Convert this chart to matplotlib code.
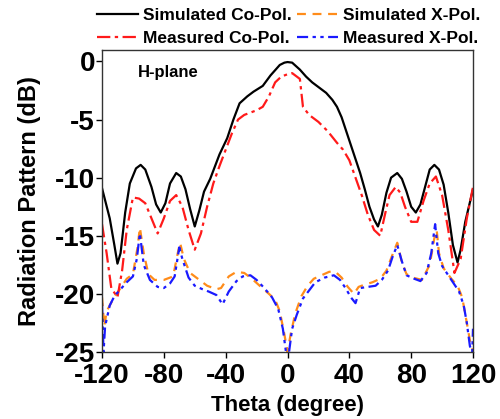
import matplotlib
matplotlib.use("Agg")
from matplotlib import pyplot as plt

plt.rcParams['font.family'] = ['Liberation Sans', 'DejaVu Sans']
plt.rcParams['font.weight'] = 'bold'
plt.rcParams['axes.unicode_minus'] = False

# --- data ---
sim_co_theta = [-120, -115, -112, -110, -108, -105, -102, -98, -95, -92, -88, -85, -82, -79, -76,
                -72, -69, -66, -63, -60, -57, -54, -50, -44, -39, -35, -31, -26, -22, -16, -11,
                -5, -2, 0, 3, 8, 12, 16, 20, 25, 29, 32, 35, 38, 42, 47, 50, 53, 56, 58.5, 61,
                64, 67, 71, 74, 77, 80, 83, 86, 89, 92, 95, 98, 101, 104, 107, 110, 112, 115, 120]
sim_co = [-10.9, -13.5, -15.8, -17.4, -16.5, -13.0, -10.5, -9.2, -8.9, -9.3, -10.8, -12.3, -13.0,
          -12.2, -10.5, -9.6, -9.9, -11.0, -12.7, -14.2, -12.8, -11.2, -10.1, -8.0, -6.6, -5.0,
          -3.6, -3.0, -2.6, -2.1, -1.2, -0.3, -0.1, -0.05, -0.1, -0.7, -1.3, -1.8, -2.2, -2.7,
          -3.3, -3.9, -4.8, -6.0, -7.6, -9.6, -11.0, -12.5, -13.6, -14.2, -13.2, -11.3, -10.0,
          -9.6, -10.1, -11.2, -12.5, -13.0, -12.3, -10.8, -9.3, -8.9, -9.3, -10.6, -13.0,
          -15.8, -17.3, -16.2, -13.8, -11.0]

meas_co_theta = [-120, -117, -114, -110, -107, -104, -100, -96, -92, -88, -84, -80, -76, -72,
                 -68, -64, -60, -56, -52, -48, -44, -40, -36, -32, -28, -24, -20, -16, -12, -8,
                 -4, 0, 3, 8, 10, 14, 20, 26, 32, 36, 40, 44, 48, 52, 56, 60, 63, 66, 70, 73,
                 76, 80, 84, 88, 92, 96, 100, 104, 108, 112, 116, 120]
meas_co = [-14.0, -16.5, -19.5, -20.3, -18.0, -14.5, -11.7, -11.8, -12.2, -13.5, -14.8, -13.5,
           -12.0, -11.5, -12.5, -14.5, -16.2, -14.8, -12.5, -10.5, -9.0, -7.6, -6.2, -5.0,
           -4.6, -4.4, -4.2, -3.9, -3.0, -1.8, -1.3, -1.1, -1.0, -1.5, -3.9, -4.6, -5.2, -6.0,
           -7.0, -7.6, -8.5, -10.0, -11.5, -13.2, -14.5, -15.0, -13.2, -11.5, -10.8, -11.3,
           -12.5, -13.8, -13.8, -12.0, -10.5, -9.9, -11.5, -14.5, -18.2, -17.0, -13.5, -10.8]

sim_x_theta = [-120, -118.5, -117, -113, -108, -104, -100, -97, -95.5, -93, -90, -86, -80, -74,
               -71, -69.5, -67, -63, -57, -52, -46, -43, -38, -33, -28, -23, -18, -12, -8, -5,
               -2, 0, 2, 5, 9, 13, 17, 22, 27, 31, 35, 39, 43, 46, 50, 55, 60, 64, 68, 71, 74,
               77, 81, 87, 92, 95, 96.5, 98, 101, 106, 110, 113, 116, 118, 120]
sim_x = [-20.3, -22.8, -21.5, -20.5, -19.5, -18.7, -18.3, -16.0, -14.3, -16.5, -18.3, -18.8,
         -18.8, -18.5, -16.5, -15.6, -17.0, -18.2, -18.8, -19.3, -19.6, -19.5, -18.5, -18.1,
         -18.2, -18.7, -19.3, -20.0, -20.5, -21.5, -23.5, -25.0, -23.5, -21.7, -20.2, -19.3,
         -18.7, -18.4, -18.1, -18.1, -18.6, -19.4, -20.0, -19.4, -19.2, -19.0, -18.7, -18.0,
         -16.6, -15.6, -17.3, -18.3, -18.6, -18.8, -17.5, -15.2, -14.5, -16.5, -17.8, -18.7,
         -19.3, -20.3, -22.5, -24.0, -25.0]

meas_x_theta = [-120, -119, -118, -115, -112, -108, -104, -100, -97.5, -95.5, -93, -89, -84,
                -80, -76, -73, -70, -68, -64, -60, -55, -51, -46, -42, -38, -33, -29, -24, -20,
                -15, -10, -6, -3, -1, 1, 3, 6, 10, 14, 18, 24, 30, 34, 38, 41, 44, 47, 52, 57,
                61, 65, 68, 71, 74, 77, 82, 86, 90, 93, 95.5, 97.5, 100, 104, 108, 111, 114,
                116, 118, 119.5, 120]
meas_x = [-20.8, -25.0, -22.8, -21.0, -20.2, -19.6, -19.0, -18.5, -17.0, -14.8, -17.5, -18.8,
          -19.4, -19.5, -19.1, -18.5, -16.0, -17.0, -18.6, -19.3, -19.6, -19.8, -20.1, -20.9,
          -19.8, -18.9, -18.5, -18.4, -18.8, -19.5, -20.3, -21.3, -23.0, -25.0, -25.0, -23.0,
          -21.8, -20.4, -19.7, -19.0, -18.6, -18.4, -18.8, -19.6, -20.3, -20.8, -19.5, -19.4,
          -19.3, -18.8, -18.0, -16.8, -15.8, -17.2, -18.4, -18.7, -18.9, -18.2, -16.5, -14.0,
          -16.5, -17.6, -18.4, -19.2, -19.8, -21.0, -22.5, -24.5, -25.0, -23.0]

x_ticks = [-120, -80, -40, 0, 40, 80, 120]
y_ticks = [0, -5, -10, -15, -20, -25]

# --- figure ---
fig = plt.figure(figsize=(5.0, 4.19), dpi=100)
ax = fig.add_axes([0.204, 0.160, 0.742, 0.721])

lw = 1.6
ax.plot(sim_co_theta, sim_co, color='black', lw=lw, label='Simulated Co-Pol.')
ax.plot(sim_x_theta, sim_x, color='#ff8c1a', lw=lw, dashes=(4, 3), label='Simulated X-Pol.')
ax.plot(meas_co_theta, meas_co, color='#ff1a1a', lw=lw, dashes=(6, 2, 1.5, 2),
        label='Measured Co-Pol.')
ax.plot(meas_x_theta, meas_x, color='#1a1aff', lw=lw, dashes=(5, 2, 1.5, 2, 1.5, 2),
        label='Measured X-Pol.')

ax.set_xlim(-120, 120)
ax.set_ylim(-25, 1)
ax.set_xticks(x_ticks)
ax.set_yticks(y_ticks)
ax.tick_params(direction='out', length=4, width=1, labelsize=20)
ax.tick_params(axis='y', pad=1)
ax.tick_params(axis='x', pad=4)
for s in ax.spines.values():
    s.set_linewidth(1)
    s.set_color('#333333')

ax.set_xlabel('Theta (degree)', fontsize=16, fontweight='bold', labelpad=4)
ax.set_ylabel('Radiation Pattern (dB)', fontsize=17, fontweight='bold', labelpad=10)

ax.text(0.097, 0.925, 'H-plane', transform=ax.transAxes, fontsize=12, fontweight='bold',
        va='center', ha='left')

handles, labels = ax.get_legend_handles_labels()
order = [0, 2, 1, 3]
fig.legend([handles[i] for i in order], [labels[i] for i in order], ncol=2,
           loc='upper left', bbox_to_anchor=(0.188, 0.99), frameon=False,
           prop={'size': 12.5, 'weight': 'bold'}, handlelength=2.35, handletextpad=0.3,
           columnspacing=0.3, labelspacing=0.45, borderaxespad=0.1, borderpad=0.1)

fig.savefig('out.png', dpi=100)
